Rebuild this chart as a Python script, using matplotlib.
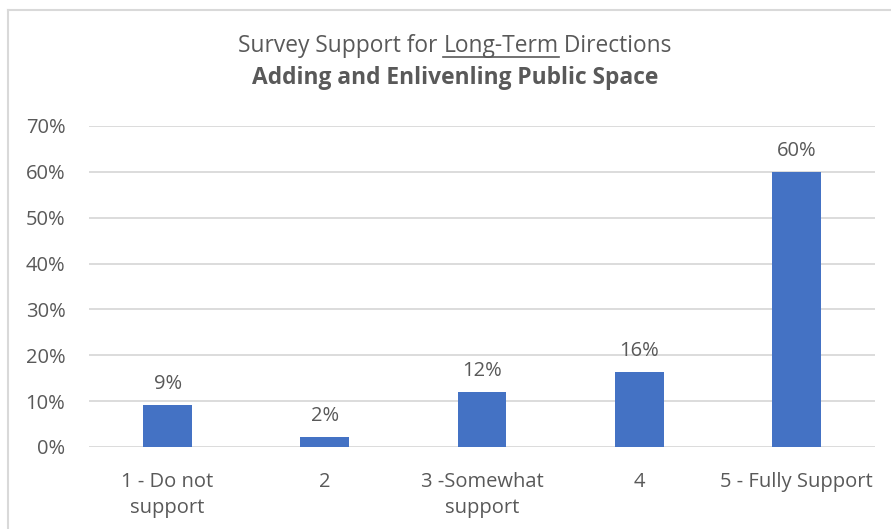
import matplotlib.pyplot as plt
import matplotlib.ticker as mtick
from matplotlib.lines import Line2D

# Dados
categorias = ["1 - Do not\nsupport", "2", "3 -Somewhat\nsupport", "4", "5 - Fully Support"]
valores = [9.2, 2.2, 12.0, 16.3, 59.9]
rotulos = ["9%", "2%", "12%", "16%", "60%"]

cor_barra = "#4472C4"
cor_texto = "#595959"
cor_grade = "#D9D9D9"

plt.rcParams["font.family"] = ["Open Sans", "DejaVu Sans"]

fig = plt.figure(figsize=(8.91, 5.29), dpi=100)
ax = fig.add_axes([89 / 891, 1 - 447 / 529, (875 - 89) / 891, (447 - 126) / 529])

x = range(len(categorias))
ax.bar(x, valores, width=0.31, color=cor_barra, zorder=3)

for xi, v, r in zip(x, valores, rotulos):
    ax.annotate(r, (xi, v), xytext=(0, 8), textcoords="offset points",
                ha="center", va="bottom", fontsize=14.5, color=cor_texto)

ax.set_xlim(-0.5, len(categorias) - 0.5)
ax.set_ylim(0, 70)
ax.yaxis.set_major_locator(mtick.MultipleLocator(10))
ax.yaxis.set_major_formatter(mtick.FuncFormatter(lambda v, _: f"{v:.0f}%"))
ax.set_xticks(list(x))
ax.set_xticklabels(categorias)
ax.tick_params(axis="both", length=0, labelsize=14.5, labelcolor=cor_texto)
ax.tick_params(axis="y", pad=17)
ax.tick_params(axis="x", pad=18)
for lbl in ax.get_xticklabels():
    lbl.set_linespacing(1.4)

ax.grid(axis="y", color=cor_grade, linewidth=1.3, zorder=0)
for s in ax.spines.values():
    s.set_visible(False)

# Titulo com "Long-Term" sublinhado
y1 = 1 - 46 / 529
parte1 = "Survey Support for "
parte2 = "Long-Term"
parte3 = " Directions"
kw = dict(fontsize=16.4, color=cor_texto, va="center")
renderer = fig.canvas.get_renderer()
tmp = [fig.text(0, 0, p, **kw) for p in (parte1, parte2, parte3)]
larguras = [t.get_window_extent(renderer).width for t in tmp]
for t in tmp:
    t.remove()
total = sum(larguras)
x0 = 455 - total / 2
for p, w in zip((parte1, parte2, parte3), larguras):
    fig.text(x0 / 891, y1, p, ha="left", **kw)
    if p == parte2:
        fig.add_artist(Line2D([x0 / 891, (x0 + w) / 891], [y1 - 11 / 529] * 2,
                              transform=fig.transFigure, color=cor_texto, linewidth=1.2))
    x0 += w

fig.text(455 / 891, 1 - 78 / 529, "Adding and Enlivenling Public Space",
         ha="center", va="center", fontsize=16.4, fontweight="bold", color=cor_texto)

# Borda do grafico
fig.add_artist(Line2D([7.5 / 891, 1], [1 - 9.5 / 529] * 2, transform=fig.transFigure,
                      color=cor_grade, linewidth=1.5))
fig.add_artist(Line2D([7.5 / 891] * 2, [0, 1 - 9.5 / 529], transform=fig.transFigure,
                      color=cor_grade, linewidth=1.5))

plt.savefig("out.png", dpi=100)
